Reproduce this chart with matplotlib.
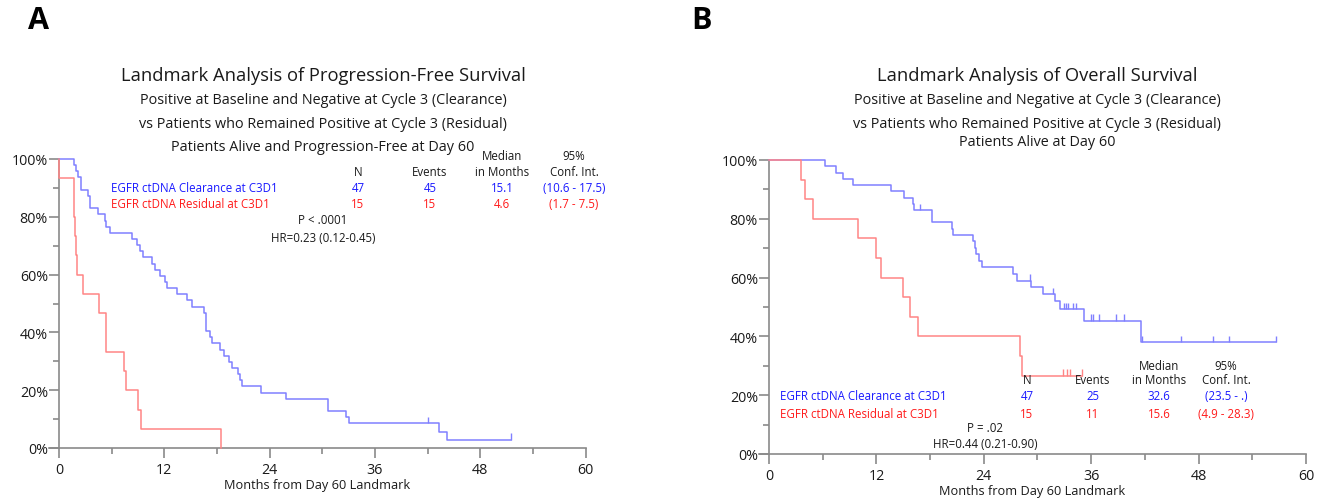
import numpy as np
import matplotlib
matplotlib.use("Agg")
import matplotlib.pyplot as plt
from matplotlib.ticker import MultipleLocator, FuncFormatter

plt.rcParams['font.family'] = ['Open Sans', 'DejaVu Sans']

# ------------------------------------------------------------
# Data (months, % surviving)
# ------------------------------------------------------------
# Panel A - progression-free survival
pfs_clear_t = [0, 1.75, 1.9, 2.2, 2.5, 3.35, 3.5, 4.4, 5.2, 5.4, 5.8, 8.35, 8.85, 9.2, 9.6,
               10.6, 10.9, 11.5, 12.1, 12.3, 13.4, 14.6, 15.1, 16.5, 16.7, 17.2, 17.4, 18.3,
               18.8, 19.4, 19.7, 20.4, 20.6, 20.9, 23.0, 25.9, 30.6, 32.65, 33.1, 43.3, 44.2, 51.5]
pfs_clear_s = [100, 97.9, 95.7, 93.6, 89.4, 87.2, 83.0, 80.9, 78.7, 76.6, 74.5, 72.3, 70.2, 68.1, 66.0,
               63.8, 61.7, 59.6, 57.4, 55.3, 53.2, 51.1, 48.9, 46.8, 40.4, 38.3, 36.2, 34.0,
               31.9, 29.8, 27.7, 25.5, 23.4, 21.3, 19.1, 17.0, 12.8, 10.6, 8.5, 5.7, 2.9, 2.9]
pfs_clear_cens = [42.0, 51.5]

pfs_resid_t = [0, 0.05, 1.65, 1.75, 1.85, 1.95, 2.05, 2.75, 4.55, 5.3, 7.4, 7.6, 9.0, 9.3, 18.5]
pfs_resid_s = [100, 93.3, 86.7, 80.0, 73.3, 66.7, 60.0, 53.3, 46.7, 33.3, 26.7, 20.0, 13.3, 6.7, 0]
pfs_resid_cens = []

# Panel B - overall survival
os_clear_t = [0, 6.3, 7.5, 8.3, 9.4, 13.6, 15.1, 16.1, 16.2, 18.2, 20.4, 20.6, 22.8, 23.0, 23.1,
              23.5, 23.8, 27.3, 27.7, 29.3, 30.6, 31.9, 32.5, 35.2, 41.6, 56.6]
os_clear_s = [100, 97.9, 95.7, 93.6, 91.5, 89.4, 87.2, 85.1, 83.0, 78.8, 76.6, 74.4, 72.3, 70.1, 67.9,
              65.7, 63.5, 61.2, 59.0, 56.7, 54.4, 52.2, 49.3, 45.3, 38.0, 38.0]
os_clear_cens = [16.9, 29.2, 31.7, 33.0, 33.2, 33.4, 34.0, 34.3, 36.0, 36.2, 36.9, 38.8, 39.7,
                 41.7, 46.0, 49.6, 51.4, 56.6]

os_resid_t = [0, 3.6, 4.0, 4.9, 9.9, 12.0, 12.5, 15.0, 15.7, 16.7, 28.0, 28.3, 35.0]
os_resid_s = [100, 93.3, 86.7, 80.0, 73.3, 66.7, 60.0, 53.3, 46.7, 40.0, 33.3, 26.7, 26.7]
os_resid_cens = [32.9, 33.3, 33.6, 35.0]

# Summary tables
pfs_table = [["47", "45", "15.1", "(10.6 - 17.5)"], ["15", "15", "4.6", "(1.7 - 7.5)"]]
os_table = [["47", "25", "32.6", "(23.5 - .)"], ["15", "11", "15.6", "(4.9 - 28.3)"]]
group_labels = ["EGFR ctDNA Clearance at C3D1", "EGFR ctDNA Residual at C3D1"]

BLUE_LINE, RED_LINE = "#8080ff", "#ff8585"
BLUE_TXT, RED_TXT = "#1a1aff", "#ff1a1a"
AXIS_COL = "#8a8a8a"
TXT = "#1a1a1a"

W, H = 1328, 502
fig = plt.figure(figsize=(W / 100, H / 100), dpi=100)


def px(x, y):
    # pixel position in the reference -> figure fraction
    return x / W, 1 - y / H


def ftext(x, y, s, **kw):
    fx, fy = px(x, y)
    kw.setdefault('fontsize', 8.3)
    kw.setdefault('color', TXT)
    kw.setdefault('ha', 'center')
    kw.setdefault('va', 'center')
    fig.text(fx, fy, s, **kw)


def level_at(t, ts, ss):
    i = np.searchsorted(ts, t, side='right') - 1
    return ss[max(i, 0)]


def km_axes(rect, xmin):
    ax = fig.add_axes(rect)
    ax.set_xlim(xmin, 60)
    ax.set_ylim(0, 100)
    for sp in ['top', 'right']:
        ax.spines[sp].set_visible(False)
    ax.spines['left'].set_position(('data', 0))
    for sp in ['left', 'bottom']:
        ax.spines[sp].set_color(AXIS_COL)
        ax.spines[sp].set_linewidth(1.2)
    ax.xaxis.set_major_locator(MultipleLocator(12))
    ax.xaxis.set_minor_locator(MultipleLocator(6))
    ax.yaxis.set_major_locator(MultipleLocator(20))
    ax.yaxis.set_minor_locator(MultipleLocator(10))
    ax.yaxis.set_major_formatter(FuncFormatter(lambda v, p: "%d%%" % v))
    ax.tick_params(axis='x', which='major', length=7, width=1.2, color=AXIS_COL, pad=3,
                   labelsize=10.3, labelcolor=TXT)
    ax.tick_params(axis='x', which='minor', length=4.5, width=1.2, color=AXIS_COL)
    ax.tick_params(axis='y', which='major', length=7, width=1.2, color=AXIS_COL, pad=1,
                   labelsize=10.3, labelcolor=TXT)
    ax.tick_params(axis='y', which='minor', length=4, width=1.2, color=AXIS_COL)
    ax.set_xlabel("Months from Day 60 Landmark", fontsize=9.2, color=TXT, labelpad=1)
    return ax


def draw_curve(ax, ts, ss, cens, color):
    ax.step(ts, ss, where='post', color=color, lw=1.1, clip_on=False, zorder=3)
    for c in cens:
        lv = level_at(c, ts, ss)
        ax.vlines(c, lv, lv + 2.2, color=color, lw=1.0, zorder=3)


# ------------------------------------------------------------
# Panel A
# ------------------------------------------------------------
axA = km_axes([48.5 / W, 53 / H, 537 / W, 289 / H], -1.2)
draw_curve(axA, pfs_clear_t, pfs_clear_s, pfs_clear_cens, BLUE_LINE)
draw_curve(axA, pfs_resid_t, pfs_resid_s, pfs_resid_cens, RED_LINE)

ftext(39, 21, "A", fontsize=22, fontweight='bold', color='black')
ftext(323, 76, "Landmark Analysis of Progression-Free Survival", fontsize=13.2)
ftext(323, 101, "Positive at Baseline and Negative at Cycle 3 (Clearance)", fontsize=10.4)
ftext(323, 124, "vs Patients who Remained Positive at Cycle 3 (Residual)", fontsize=10.4)
ftext(323, 148, "Patients Alive and Progression-Free at Day 60", fontsize=10.4)

colsA = [358, 430, 502, 574]
ftext(502, 157, "Median")
ftext(574, 157, "95%")
for x, h in zip(colsA, ["N", "Events", "in Months", "Conf. Int."]):
    ftext(x, 173, h)
for row, y, col, lab in zip(pfs_table, [189, 205], [BLUE_TXT, RED_TXT], group_labels):
    ftext(111, y, lab, color=col, ha='left')
    for x, v in zip(colsA, row):
        ftext(x, y, v, color=col)
ftext(323, 221, "P < .0001")
ftext(323, 238, "HR=0.23 (0.12-0.45)")

# ------------------------------------------------------------
# Panel B
# ------------------------------------------------------------
axB = km_axes([758.7 / W, 47 / H, 547.3 / W, 294 / H], -1.15)
draw_curve(axB, os_clear_t, os_clear_s, os_clear_cens, BLUE_LINE)
draw_curve(axB, os_resid_t, os_resid_s, os_resid_cens, RED_LINE)

ftext(701, 21, "B", fontsize=22, fontweight='bold', color='black')
ftext(1037, 76, "Landmark Analysis of Overall Survival", fontsize=13.2)
ftext(1037, 101, "Positive at Baseline and Negative at Cycle 3 (Clearance)", fontsize=10.4)
ftext(1037, 124, "vs Patients who Remained Positive at Cycle 3 (Residual)", fontsize=10.4)
ftext(1037, 143, "Patients Alive at Day 60", fontsize=10.4)

colsB = [1027, 1093, 1159, 1226]
ftext(1159, 366, "Median")
ftext(1226, 366, "95%")
for x, h in zip(colsB, ["N", "Events", "in Months", "Conf. Int."]):
    ftext(x, 381, h)
for row, y, col, lab in zip(os_table, [397, 414], [BLUE_TXT, RED_TXT], group_labels):
    ftext(780, y, lab, color=col, ha='left')
    for x, v in zip(colsB, row):
        ftext(x, y, v, color=col)
ftext(985, 429, "P = .02")
ftext(985, 445, "HR=0.44 (0.21-0.90)")

fig.savefig("out.png", dpi=100)
